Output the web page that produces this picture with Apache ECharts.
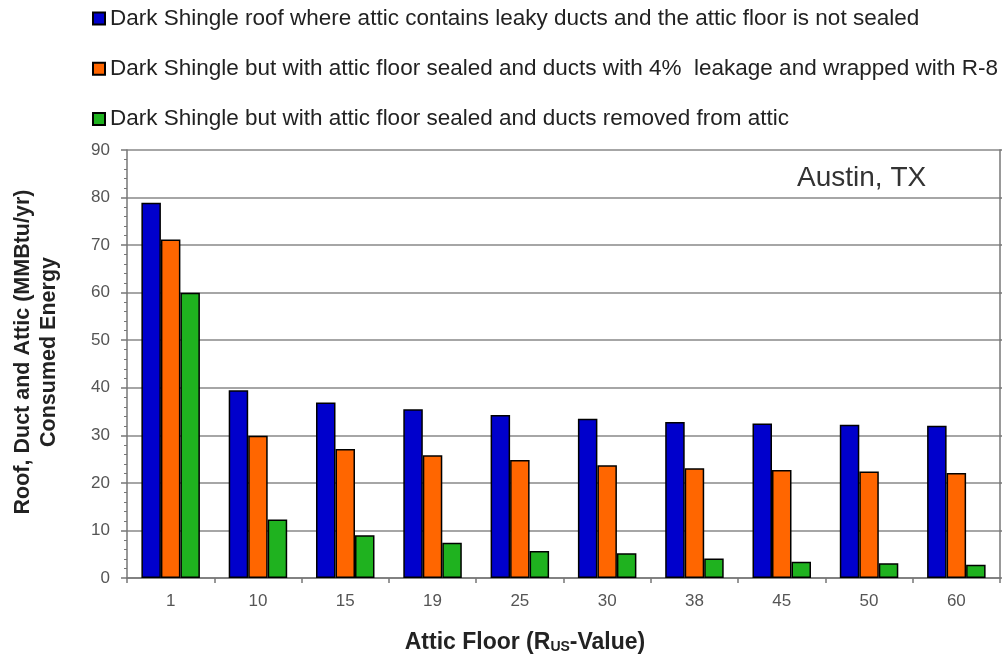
<!DOCTYPE html>
<html>
<head>
<meta charset="utf-8">
<script src="https://cdn.jsdelivr.net/npm/echarts@6/dist/echarts.min.js"></script>
<style>
  html, body { margin: 0; padding: 0; background: #fff; }
  #chart { width: 1002px; height: 660px; }
</style>
</head>
<body>
<div id="chart"></div>
<script>
// Attic floor R-values (x categories)
const categories = ['1', '10', '15', '19', '25', '30', '38', '45', '50', '60'];

// Roof, duct and attic consumed energy (MMBtu/yr)
const leakyUnsealed = [78.9, 39.5, 36.9, 35.5, 34.3, 33.5, 32.8, 32.5, 32.2, 32.0];
const sealedWrapped = [71.2, 29.9, 27.1, 25.8, 24.8, 23.7, 23.1, 22.7, 22.4, 22.1];
const sealedNoDucts = [60.0, 12.3, 9.0, 7.4, 5.7, 5.2, 4.1, 3.4, 3.1, 2.8];

const seriesNames = [
  'Dark Shingle roof where attic contains leaky ducts and the attic floor is not sealed',
  'Dark Shingle but with attic floor sealed and ducts with 4%  leakage and wrapped with R-8',
  'Dark Shingle but with attic floor sealed and ducts removed from attic'
];
const seriesColors = ['#0000CC', '#FF6600', '#1FB21F'];
const seriesData = [leakyUnsealed, sealedWrapped, sealedNoDucts];

const yTicks = { min: 0, max: 90, interval: 10 };

const xTitle = 'Attic Floor (R{sub|US}-Value)';
const yTitle = 'Roof, Duct and Attic (MMBtu/yr)\nConsumed Energy';
const placeLabel = 'Austin, TX';

const FONT = '"Liberation Sans", Arial, sans-serif';
const chart = echarts.init(document.getElementById('chart'), null, { renderer: 'canvas' });

chart.setOption({
  animation: false,
  backgroundColor: '#fff',
  textStyle: { fontFamily: FONT },
  legend: {
    orient: 'vertical',
    left: 92,
    top: 7,
    padding: 0,
    itemWidth: 12,
    itemHeight: 12,
    itemGap: 27.3,
    icon: 'rect',
    selectedMode: false,
    textStyle: { fontFamily: FONT, fontSize: 22.5, color: '#222', lineHeight: 22 },
    data: seriesNames
  },
  grid: { left: 127, right: 2, top: 150, bottom: 82, containLabel: false, outerBoundsMode: 'none' },
  xAxis: {
    type: 'category',
    data: categories,
    axisLine: { show: true, lineStyle: { color: '#777', width: 1.5 } },
    axisTick: { show: true, length: 5, lineStyle: { color: '#777', width: 1.5 } },
    axisLabel: { color: '#555', fontSize: 17, margin: 15, fontFamily: FONT }
  },
  yAxis: [
    {
      type: 'value',
      min: yTicks.min,
      max: yTicks.max,
      interval: yTicks.interval,
      axisLine: { show: true, lineStyle: { color: '#777', width: 1.5 } },
      axisTick: { show: true, length: 6, lineStyle: { color: '#777', width: 1.5 } },
      minorTick: { show: true, splitNumber: 5, length: 3, lineStyle: { color: '#777', width: 1 } },
      splitLine: { show: true, lineStyle: { color: '#888', width: 1.5 } },
      axisLabel: { color: '#555', fontSize: 17, margin: 17, fontFamily: FONT }
    },
    {
      type: 'value',
      position: 'right',
      min: yTicks.min,
      max: yTicks.max,
      interval: yTicks.interval,
      axisLine: { show: true, lineStyle: { color: '#777', width: 1.5 } },
      axisTick: { show: true, length: 3, lineStyle: { color: '#777', width: 1.5 } },
      splitLine: { show: false },
      axisLabel: { show: false }
    }
  ],
  series: seriesNames.map((name, i) => ({
    name: name,
    type: 'bar',
    data: seriesData[i],
    barGap: '0%',
    barCategoryGap: '33%',
    itemStyle: { color: seriesColors[i], borderColor: '#000', borderWidth: 1.5 }
  })),
  graphic: [
    {
      type: 'text',
      left: 797,
      top: 164,
      style: { text: placeLabel, font: '28px "Liberation Sans", Arial, sans-serif', fill: '#333' }
    },
    {
      // x-axis title with subscript
      type: 'text',
      x: 525,
      y: 643,
      style: {
        text: xTitle,
        align: 'center',
        verticalAlign: 'middle',
        font: 'bold 23px "Liberation Sans", Arial, sans-serif',
        fill: '#222',
        rich: {
          sub: { font: 'bold 14px "Liberation Sans", Arial, sans-serif', fill: '#222', padding: [9, 0, 0, 0] }
        }
      }
    },
    {
      // y-axis title, two lines, reading bottom to top
      type: 'text',
      x: 36,
      y: 352,
      rotation: Math.PI / 2,
      style: {
        text: yTitle,
        align: 'center',
        verticalAlign: 'middle',
        font: 'bold 21.5px "Liberation Sans", Arial, sans-serif',
        lineHeight: 26,
        fill: '#222'
      }
    }
  ]
});
</script>
</body>
</html>
